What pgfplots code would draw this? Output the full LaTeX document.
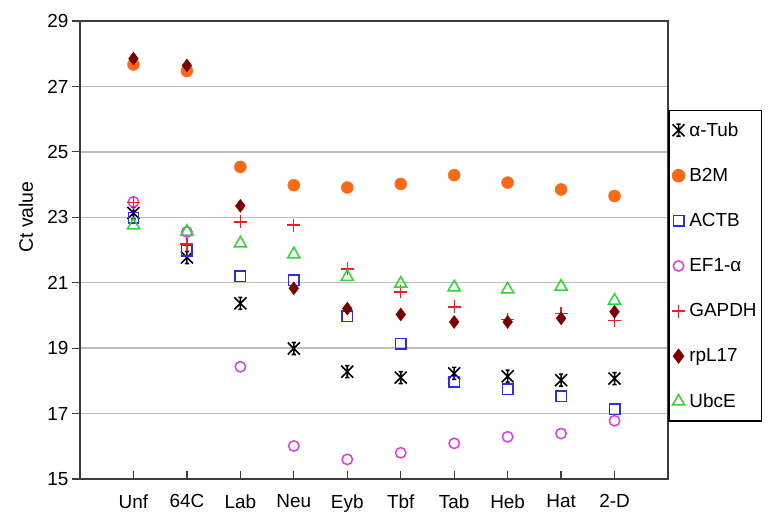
\documentclass[border=0pt]{standalone}
\usepackage{fontspec}
\setmainfont{Liberation Sans}
\usepackage{pgfplots}
\pgfplotsset{compat=1.18}
\definecolor{cB2M}{RGB}{250,105,20}
\definecolor{cACTB}{RGB}{45,45,230}
\definecolor{cEF}{RGB}{225,60,225}
\definecolor{cGAP}{RGB}{240,30,40}
\definecolor{cRPL}{RGB}{125,0,0}
\definecolor{cUBC}{RGB}{45,215,45}
\definecolor{axgray}{RGB}{60,60,60}
\definecolor{gridgray}{RGB}{190,190,190}
\pgfdeclareplotmark{xstar}{%
  \pgfpathmoveto{\pgfpoint{-\pgfplotmarksize}{-\pgfplotmarksize}}%
  \pgfpathlineto{\pgfpoint{\pgfplotmarksize}{\pgfplotmarksize}}%
  \pgfpathmoveto{\pgfpoint{-\pgfplotmarksize}{\pgfplotmarksize}}%
  \pgfpathlineto{\pgfpoint{\pgfplotmarksize}{-\pgfplotmarksize}}%
  \pgfpathmoveto{\pgfpoint{0pt}{-\pgfplotmarksize}}%
  \pgfpathlineto{\pgfpoint{0pt}{\pgfplotmarksize}}%
  \pgfpathmoveto{\pgfpoint{-0.35\pgfplotmarksize}{\pgfplotmarksize}}%
  \pgfpathlineto{\pgfpoint{0.35\pgfplotmarksize}{\pgfplotmarksize}}%
  \pgfpathmoveto{\pgfpoint{-0.35\pgfplotmarksize}{-\pgfplotmarksize}}%
  \pgfpathlineto{\pgfpoint{0.35\pgfplotmarksize}{-\pgfplotmarksize}}%
  \pgfusepathqstroke}
\begin{document}
\begin{tikzpicture}
\begin{axis}[
  at={(0,0)}, anchor=south west,
  scale only axis, width=588bp, height=458bp,
  xmin=-1, xmax=10, ymin=15, ymax=29,
  xtick={0,...,9},
  xticklabels={Unf,64C,Lab,Neu,Eyb,Tbf,Tab,Heb,Hat,2-D},
  ytick={15,17,...,29},
  xtick pos=bottom, ytick pos=left,
  xtick align=inside, ytick align=outside,
  major tick length=8bp,
  tick style={axgray, line width=1.2bp},
  axis line style={axgray, line width=2bp},
  ymajorgrids, grid style={gridgray, line width=1.5bp},
  /pgf/number format/assume math mode=true,
  tick label style={font=\fontsize{19}{19}\selectfont},
  xticklabel style={yshift=-12bp},
  ylabel={Ct value},
  ylabel style={at={(axis description cs:-0.092,0.572)}, anchor=center, font=\fontsize{19.5}{19.5}\selectfont},
  legend style={at={(axis description cs:1,0.806)}, anchor=north west,
    draw=black, line width=1.5bp, font=\fontsize{19}{19}\selectfont,
    row sep=26.5bp, inner xsep=3bp, inner ysep=10bp,
    cells={anchor=west}},
  legend image code/.code={\path (0bp,0bp) (14bp,0bp);\draw[mark repeat=2,mark phase=2,#1] plot coordinates {(0bp,0bp)(6bp,0bp)(12bp,0bp)};},
  clip=false,
]
\addplot[only marks, mark=xstar, mark size=6bp, black, line width=1.6bp] coordinates {
(0,23.13)(1,21.77)(2,20.37)(3,18.99)(4,18.28)(5,18.10)(6,18.23)(7,18.14)(8,18.02)(9,18.07)};
\addlegendentry{α-Tub}
\addplot[only marks, mark=*, mark size=6bp, cB2M, mark options={draw=cB2M, fill=cB2M}] coordinates {
(0,27.67)(1,27.47)(2,24.54)(3,23.98)(4,23.91)(5,24.02)(6,24.29)(7,24.06)(8,23.85)(9,23.65)};
\addlegendentry{B2M}
\addplot[only marks, mark=square, mark size=5.2bp, cACTB, line width=1.5bp] coordinates {
(0,22.98)(1,21.98)(2,21.20)(3,21.08)(4,19.98)(5,19.14)(6,17.97)(7,17.74)(8,17.53)(9,17.13)};
\addlegendentry{ACTB}
\addplot[only marks, mark=o, mark size=5.2bp, cEF, line width=1.5bp] coordinates {
(0,23.47)(1,22.55)(2,18.43)(3,16.01)(4,15.60)(5,15.80)(6,16.09)(7,16.29)(8,16.39)(9,16.78)};
\addlegendentry{EF1-α}
\addplot[only marks, mark=+, mark size=6.5bp, cGAP, line width=1.3bp] coordinates {
(0,23.45)(1,22.18)(2,22.86)(3,22.76)(4,21.42)(5,20.72)(6,20.26)(7,19.88)(8,20.06)(9,19.85)};
\addlegendentry{GAPDH}
\addplot[only marks, mark=diamond*, mark size=6.5bp, cRPL, mark options={draw=cRPL, fill=cRPL}] coordinates {
(0,27.85)(1,27.64)(2,23.35)(3,20.83)(4,20.21)(5,20.03)(6,19.80)(7,19.80)(8,19.91)(9,20.11)};
\addlegendentry{rpL17}
\addplot[only marks, mark=triangle, mark size=7bp, cUBC, line width=1.5bp] coordinates {
(0,22.75)(1,22.56)(2,22.20)(3,21.87)(4,21.18)(5,20.97)(6,20.86)(7,20.80)(8,20.88)(9,20.45)};
\addlegendentry{UbcE}
\end{axis}
\pgfresetboundingbox
\path (-80bp,-33bp) rectangle (694bp,479bp);
\end{tikzpicture}
\end{document}
